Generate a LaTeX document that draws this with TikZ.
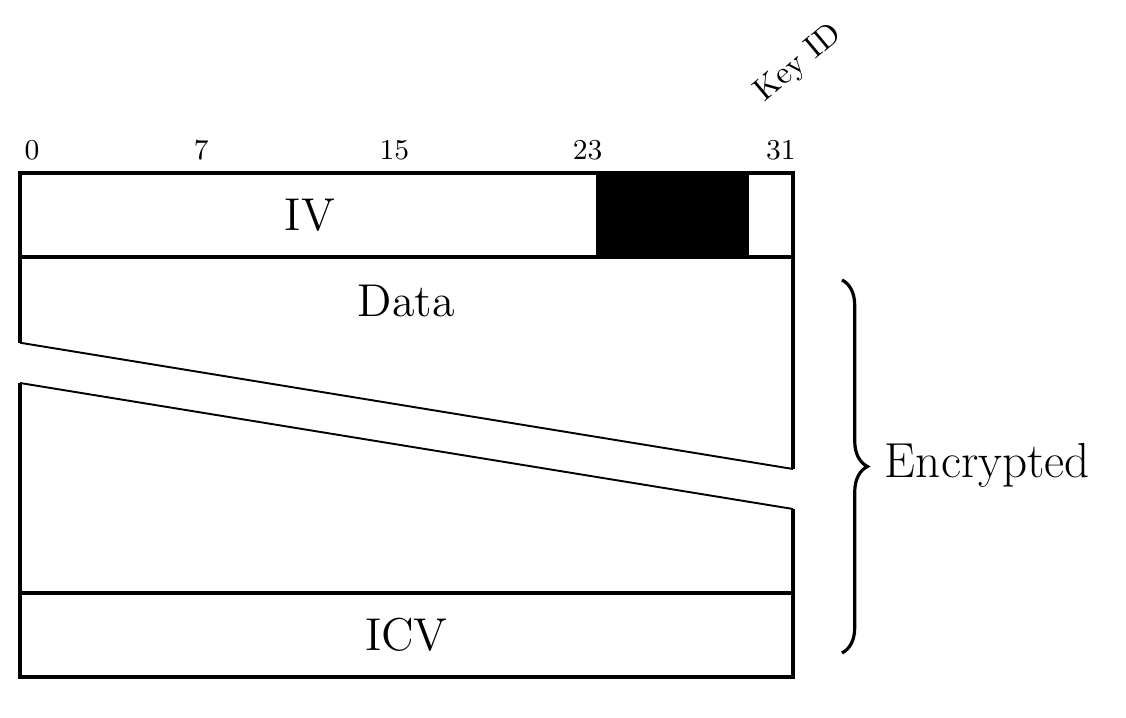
\documentclass[tikz,border=0pt]{standalone}
\usetikzlibrary{decorations.pathreplacing}

\begin{document}
\begin{tikzpicture}[line width=1pt]
  \useasboundingbox (0,0) rectangle (12.386,7.898);
  % frame corners
  \coordinate (ivtl) at (0.22,5.995);
  \coordinate (ivbr) at (8.723,5.071);
  \coordinate (ivbl) at (0.22,5.071);
  \coordinate (icvtl) at (0.22,1.375);
  \coordinate (icvtr) at (8.723,1.375);
  \coordinate (icvbl) at (0.22,0.451);
  % break in the data field
  \coordinate (cutal) at (0.22,4.128);
  \coordinate (cutar) at (8.723,2.739);
  \coordinate (cutbl) at (0.22,3.685);
  \coordinate (cutbr) at (8.723,2.299);
  % bit numbers
  \foreach \b in {0,7,15,23,31}{
    \node[font=\small] (bit\b) at ({0.22+(\b+0.5)*0.2657},6.25) {\b};
  }
  \node[rotate=40, anchor=south west, inner sep=1pt] (keyid) at (8.45,6.64) {Key ID};
  % IV word
  \draw (ivtl) rectangle (ivbr);
  \filldraw (6.578,5.071) rectangle (8.217,5.995);
  \node[font=\Large] (iv) at (3.41,5.533) {IV};
  % data
  \draw (ivbl) -- (cutal);
  \draw (cutar) -- (ivbr);
  \draw (icvtl) -- (cutbl);
  \draw (cutbr) -- (icvtr);
  \draw[line width=0.6pt] (cutal) -- (cutar);
  \draw[line width=0.6pt] (cutbl) -- (cutbr);
  \node[font=\Large] (data) at (4.47,4.59) {Data};
  % ICV word
  \draw (icvbl) rectangle (icvtr);
  \node[font=\Large] (icv) at (4.47,0.913) {ICV};
  % encrypted part
  \coordinate (brtop) at (9.262,4.818);
  \coordinate (brbot) at (9.262,0.715);
  \draw[decorate, decoration={brace, amplitude=0.28cm}] (brtop) -- (brbot);
  \node[font=\fontsize{15.4}{18}\selectfont, anchor=base west] (enc) at (9.6,2.64) {Encrypted};
\end{tikzpicture}
\end{document}
